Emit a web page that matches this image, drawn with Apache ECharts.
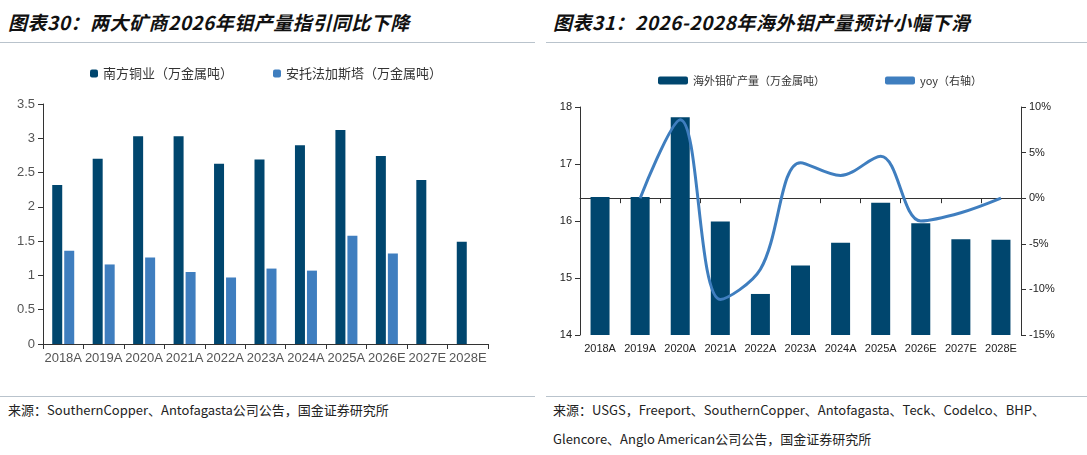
<!DOCTYPE html>
<html><head><meta charset="utf-8">
<script src="https://cdn.jsdelivr.net/npm/echarts@6/dist/echarts.min.js"></script>
<style>
body{margin:0;background:#fff;font-family:"Noto Sans CJK SC",sans-serif;width:1087px;height:455px;position:relative;overflow:hidden}
.t{position:absolute;top:8px;font-size:19px;font-weight:bold;font-style:italic;color:#111;letter-spacing:0.5px}
.ln{position:absolute;height:1px;background:#b9c3cc}
.c{position:absolute;top:50px;height:320px}
.s{position:absolute;font-size:13px;color:#222;font-family:"Noto Sans CJK SC",monospace}
</style></head><body>
<div class="t" style="left:8px">图表30：两大矿商2026年钼产量指引同比下降</div>
<div class="t" style="left:553px">图表31：2026-2028年海外钼产量预计小幅下滑</div>
<div class="ln" style="left:0;top:42px;width:535px"></div>
<div class="ln" style="left:546px;top:42px;width:541px"></div>
<div class="c" id="a" style="left:0;width:540px"></div>
<div class="c" id="b" style="left:545px;width:542px"></div>
<div class="ln" style="left:0;top:396px;width:535px"></div>
<div class="ln" style="left:546px;top:396px;width:541px"></div>
<div class="s" style="left:8px;top:400px">来源：SouthernCopper、Antofagasta公司公告，国金证券研究所</div>
<div class="s" style="left:553px;top:400px">来源：USGS，Freeport、SouthernCopper、Antofagasta、Teck、Codelco、BHP、</div>
<div class="s" style="left:553px;top:429px">Glencore、Anglo American公司公告，国金证券研究所</div>
<script>
const years=['2018A','2019A','2020A','2021A','2022A','2023A','2024A','2025A','2026E','2027E','2028E'];
const southern=[2.32,2.70,3.03,3.03,2.63,2.69,2.90,3.12,2.74,2.39,1.49];
const antofagasta=[1.36,1.16,1.26,1.05,0.97,1.10,1.07,1.58,1.32,null,null];
const overseas=[16.42,16.42,17.82,15.99,14.72,15.22,15.62,16.32,15.96,15.68,15.67];
const yoy=[null,0,8.6,-11.1,-7.8,3.9,2.5,4.6,-2.5,-1.6,0];
const font='"Liberation Sans",Arial,sans-serif';
let ca=echarts.init(document.getElementById('a'));
ca.setOption({
  legend:{top:12,left:85,itemWidth:8,itemHeight:8,itemGap:40,textStyle:{fontSize:13,color:'#333',fontFamily:'"Noto Sans CJK SC"'},
    data:['南方铜业（万金属吨）','安托法加斯塔（万金属吨）']},
  grid:{left:43,right:52,top:54,bottom:26},
  xAxis:{type:'category',data:years,axisLine:{lineStyle:{color:'#333'}},axisTick:{show:true,lineStyle:{color:'#333'}},
    axisLabel:{color:'#555',fontSize:13,fontFamily:font,interval:0}},
  yAxis:{type:'value',min:0,max:3.5,interval:0.5,splitLine:{show:false},axisLine:{show:true,lineStyle:{color:'#333'}},
    axisTick:{show:true},axisLabel:{color:'#555',fontSize:13,fontFamily:font}},
  series:[
    {name:'南方铜业（万金属吨）',type:'bar',data:southern,barWidth:10,barGap:'20%',itemStyle:{color:'#00466e'}},
    {name:'安托法加斯塔（万金属吨）',type:'bar',data:antofagasta,barWidth:10,itemStyle:{color:'#3f7ebf'}}
  ]
});
let cb=echarts.init(document.getElementById('b'));
cb.setOption({
  legend:{top:20,left:108,itemGap:60,textStyle:{fontSize:11,color:'#333',fontFamily:'"Noto Sans CJK SC"'},
    data:[{name:'海外钼矿产量（万金属吨）',icon:'roundRect',itemStyle:{color:'#00466e'}},{name:'yoy（右轴）',icon:'roundRect',itemHeight:3}],itemWidth:30,itemHeight:8},
  grid:{left:35,right:66,top:57,bottom:35},
  xAxis:{type:'category',data:years,axisLine:{lineStyle:{color:'#333'}},axisTick:{show:true,lineStyle:{color:'#333'}},
    axisLabel:{color:'#222',fontSize:11,fontFamily:font,interval:0}},
  yAxis:[
    {type:'value',min:14,max:18,interval:1,splitLine:{show:false},axisLine:{show:true,lineStyle:{color:'#333'}},axisTick:{show:true},
      axisLabel:{color:'#222',fontSize:11,fontFamily:font}},
    {type:'value',min:-15,max:10,interval:5,splitLine:{show:false},axisLine:{show:true,lineStyle:{color:'#333'}},axisTick:{show:true},
      axisLabel:{color:'#222',fontSize:11,fontFamily:font,formatter:'{value}%'}}
  ],
  series:[
    {name:'海外钼矿产量（万金属吨）',type:'bar',data:overseas,barWidth:19,itemStyle:{color:'#00466e'}},
    {name:'yoy（右轴）',type:'line',yAxisIndex:1,data:yoy,smooth:0.35,symbol:'none',lineStyle:{color:'#3f7ebf',width:3},itemStyle:{color:'#3f7ebf'}}
  ]
});
</script></body></html>
